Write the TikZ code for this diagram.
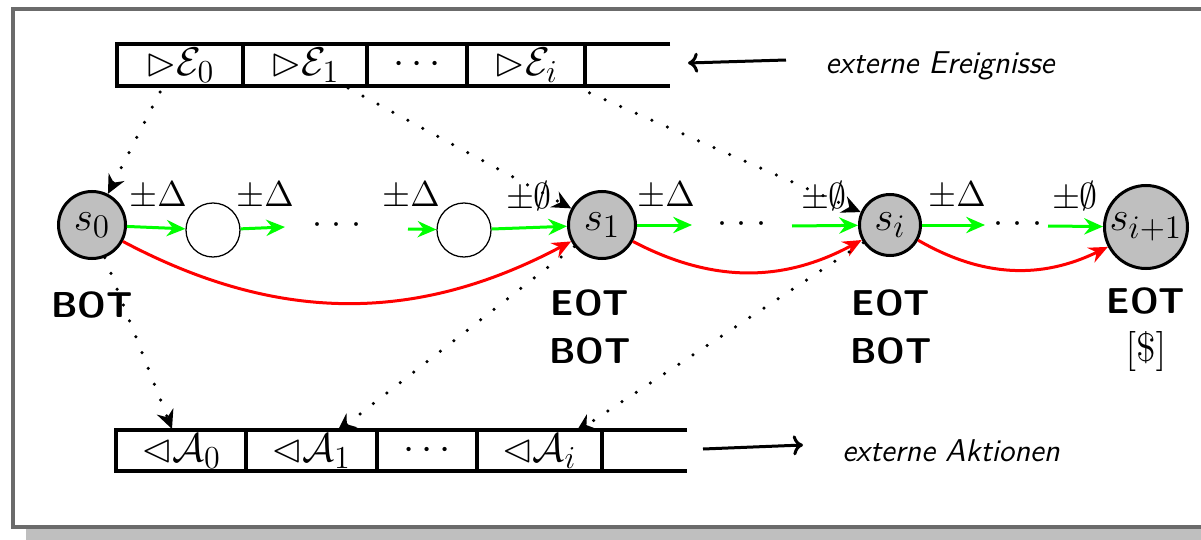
\RequirePackage{fix-cm}
\documentclass[tikz,border=0pt]{standalone}
\usepackage{latexsym}
\usetikzlibrary{arrows.meta}
\DeclareMathSizes{16}{16}{12.8}{10}
\DeclareMathSizes{16.5}{16.5}{13.2}{10}
\begin{document}
\begin{tikzpicture}[x=0.4pt,y=-0.4pt,
  st/.style={circle,draw,line width=1.2pt,fill=black!25,inner sep=0pt,font=\fontsize{16.5}{20}\selectfont},
  em/.style={circle,draw,line width=0.5pt,inner sep=0pt,minimum size=21.6pt},
  gr/.style={draw=green,line width=1.2pt,-{Stealth[length=7.5pt,width=6.5pt,inset=2.5pt]}},
  rd/.style={draw=red,line width=1.2pt,-{Stealth[length=7.5pt,width=6.5pt,inset=2.5pt]},bend right=28},
  dt/.style={line width=1.4pt,line cap=round,dash pattern=on 0pt off 6.8pt,-{Stealth[length=7.5pt,width=7pt,inset=2.5pt]}},
  buf/.style={line width=1.5pt},
  lab/.style={font=\fontsize{14.4}{17}\selectfont,inner sep=0pt},
  cell/.style={font=\fontsize{16}{19}\selectfont,inner sep=0pt},
  dots/.style={font=\Large,inner sep=0pt},
  tag/.style={font=\sffamily\bfseries\fontsize{14.4}{19.2}\selectfont,align=center,inner sep=0pt},
  ext/.style={font=\sffamily\itshape\fontsize{12.6}{15}\selectfont,inner sep=0pt},
  ar/.style={line width=1.2pt,-{To[length=4pt,width=8pt]}}
]
\useasboundingbox (0,0) rectangle (1201,540);
% frame with shadow
\fill[black!25] (26,22) rectangle (1230,560);
\draw[fill=white,draw=black!58,line width=1.4pt] (13,9) rectangle (1215,527);

% top buffer
\draw[buf] (670,44) -- (117,44) -- (117,86) -- (670,86);
\foreach \x in {243,367,467,585} \draw[buf] (\x,44) -- (\x,86);
\node[cell] (e0) at (180,65) {$\rhd\mathcal{E}_0$};
\node[cell] (e1) at (305,65) {$\rhd\mathcal{E}_1$};
\node[cell] (ed) at (417,65) {$\cdots$};
\node[cell] (ei) at (526,65) {$\rhd\mathcal{E}_i$};

% bottom buffer
\draw[buf] (687,430) -- (116,430) -- (116,471) -- (687,471);
\foreach \x in {246,377,477,602} \draw[buf] (\x,430) -- (\x,471);
\node[cell] (a0) at (181,451) {$\lhd\mathcal{A}_0$};
\node[cell] (a1) at (311,451) {$\lhd\mathcal{A}_1$};
\node[cell] (ad) at (427,451) {$\cdots$};
\node[cell] (ai) at (539,451) {$\lhd\mathcal{A}_i$};

% external labels
\node[ext] (ee) at (940,66) {externe Ereignisse};
\node[ext] (ea) at (951,451) {externe Aktionen};
\coordinate (eeS) at (786,60);
\coordinate (eeT) at (688,63);
\coordinate (eaS) at (703,449);
\coordinate (eaT) at (803,445);
\draw[ar] (eeS) -- (eeT);
\draw[ar] (eaS) -- (eaT);

% states
\node[st,minimum size=26.8pt] (s0) at (92,225) {$s_0$};
\node[em] (c1) at (213,230) {};
\node[em] (c2) at (464,230) {};
\node[st,minimum size=26.8pt] (s1) at (602,225) {$s_1$};
\node[st,minimum size=24.4pt] (si) at (890,225) {$s_i$};
\node[st,minimum size=33.2pt] (sip) at (1146,227) {$s_{i+1}$};

% dots
\node[dots] (d1) at (337,225) {${\cdot}\hspace{4pt}{\cdot}\hspace{4pt}{\cdot}$};
\node[dots] (d2) at (742,224) {${\cdot}\hspace{4pt}{\cdot}\hspace{4pt}{\cdot}$};
\node[dots] (d3) at (1018,224) {${\cdot}\hspace{4pt}{\cdot}\hspace{4pt}{\cdot}$};

% green arrows
\coordinate (g1) at (285,227);
\coordinate (g2) at (408,229);
\coordinate (g3) at (692,225);
\coordinate (g4) at (792,226);
\coordinate (g5) at (985,225);
\coordinate (g6) at (1048,226);
\draw[gr] (s0) -- (c1);
\draw[gr] (c1) -- (g1);
\draw[gr] (g2) -- (c2);
\draw[gr] (c2) -- (s1);
\draw[gr] (s1) -- (g3);
\draw[gr] (g4) -- (si);
\draw[gr] (si) -- (g5);
\draw[gr] (g6) -- (sip);

% labels
\node[lab] (l1) at (158,196) {$\pm\Delta$};
\node[lab] (l2) at (265,196) {$\pm\Delta$};
\node[lab] (l3) at (411,196) {$\pm\Delta$};
\node[lab] (l4) at (529,196) {$\pm\emptyset$};
\node[lab] (l5) at (666,196) {$\pm\Delta$};
\node[lab] (l6) at (824,196) {$\pm\emptyset$};
\node[lab] (l7) at (957,196) {$\pm\Delta$};
\node[lab] (l8) at (1075,196) {$\pm\emptyset$};

% red arrows
\draw[rd] (s0) to (s1);
\draw[rd] (s1) to (si);
\draw[rd] (si) to (sip);

% tags
\node[tag] (t0) at (92,305) {BOT};
\node[tag] (t1) at (590,327) {EOT\\BOT};
\node[tag] (t2) at (891,327) {EOT\\BOT};
\node[tag] (t3) at (1146,330) {EOT\\\fontsize{16}{19}\selectfont$[\$]$};

% dotted connectors
\coordinate (e0o) at (160,92);
\coordinate (e1o) at (348,88);
\coordinate (eio) at (574,86);
\coordinate (a0t) at (172,429);
\coordinate (a1t) at (337,432);
\coordinate (ait) at (576,432);
\draw[dt] (e0o) -- (s0);
\draw[dt] (e1o) -- (s1);
\draw[dt] (eio) -- (si);
\draw[dt] (s0) -- (a0t);
\draw[dt] (s1) -- (a1t);
\draw[dt] (si) -- (ait);
\end{tikzpicture}
\end{document}
